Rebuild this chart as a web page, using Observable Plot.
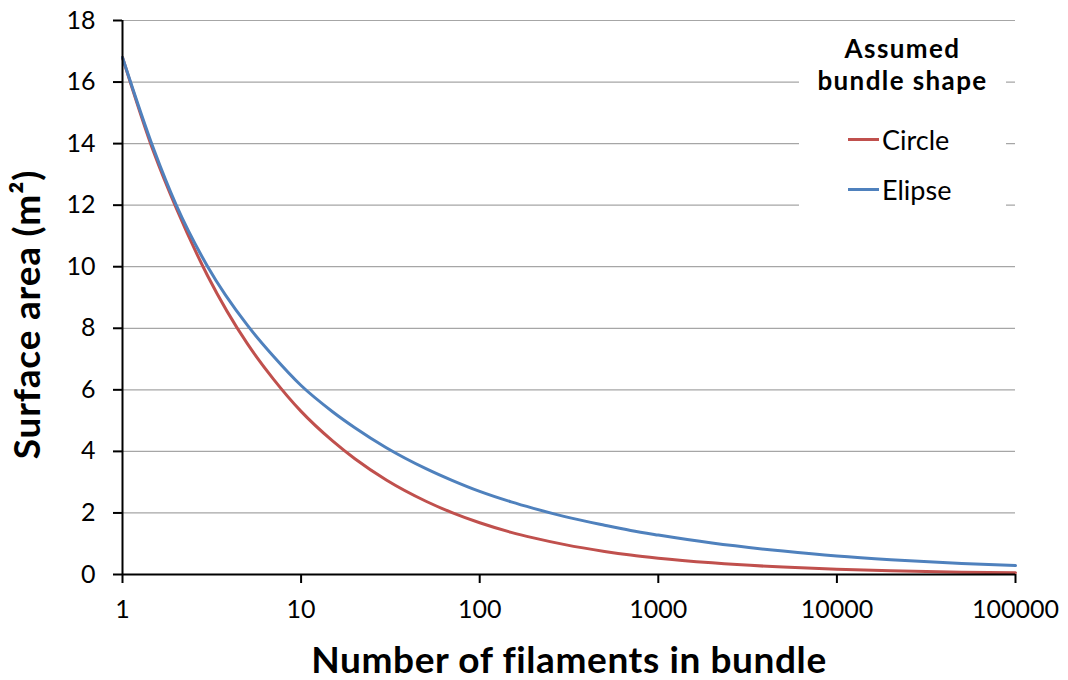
<!DOCTYPE html>
<html>
<head>
<meta charset="utf-8">
<script src="https://cdn.jsdelivr.net/npm/d3@7"></script>
<script src="https://cdn.jsdelivr.net/npm/@observablehq/plot@0.6"></script>
<style>
  html, body { margin: 0; padding: 0; background: #fff; }
  #wrap { position: relative; width: 1068px; height: 680px; font-family: Lato, "Open Sans", sans-serif; }
  #legend { position: absolute; left: 799px; top: 26px; width: 207px; height: 184px; background: #fff; color: #000; }
  #legend .title { font-weight: bold; font-size: 26px; line-height: 32px; text-align: center; margin-top: 6px; letter-spacing: 1.4px; }
  #legend .item { position: absolute; left: 49px; font-size: 27px; display: flex; align-items: center; }
  #legend .sw { width: 31px; height: 3px; margin-right: 3px; }
</style>
</head>
<body>
<div id="wrap"></div>
<script>
// Data
const filaments = [1, 1.5, 2, 3, 5, 7, 10, 15, 20, 30, 50, 70, 100, 150, 200, 300, 500, 700, 1000, 2000, 5000, 10000, 20000, 50000, 100000];
const circle  = [16.8, 13.7, 11.9, 9.7, 7.5, 6.35, 5.3, 4.34, 3.76, 3.07, 2.38, 2.01, 1.68, 1.37, 1.19, 0.97, 0.75, 0.63, 0.53, 0.38, 0.24, 0.17, 0.12, 0.075, 0.06];
const ellipse = [16.8, 13.8, 12.0, 10.0, 8.1, 7.09, 6.14, 5.29, 4.77, 4.12, 3.44, 3.06, 2.70, 2.36, 2.15, 1.88, 1.60, 1.43, 1.28, 1.02, 0.76, 0.60, 0.48, 0.36, 0.29];
const xTicks = [1, 10, 100, 1000, 10000, 100000];
const yTicks = [0, 2, 4, 6, 8, 10, 12, 14, 16, 18];
const seriesNames = ["Circle", "Elipse"];
const seriesColors = ["#C0504D", "#4F81BD"];
const xTitle = "Number of filaments in bundle";
const yTitle = "Surface area (m²)";
const legendTitle = ["Assumed", "bundle shape"];

const rows = [];
filaments.forEach((n, i) => {
  rows.push({n, v: circle[i], s: seriesNames[0]});
  rows.push({n, v: ellipse[i], s: seriesNames[1]});
});

const chart = Plot.plot({
  width: 1068,
  height: 680,
  marginLeft: 122,
  marginRight: 53,
  marginTop: 20,
  marginBottom: 106,
  style: {fontFamily: "Lato, 'Open Sans', sans-serif", fontSize: "25px", color: "#000", background: "#fff"},
  x: {type: "log", domain: [1, 100000]},
  y: {domain: [0, 18]},
  color: {domain: seriesNames, range: seriesColors},
  marks: [
    Plot.gridY(yTicks.filter(d => d > 0), {stroke: "#a6a6a6", strokeOpacity: 1, strokeWidth: 1.2}),
    Plot.line(rows, {x: "n", y: "v", z: "s", stroke: "s", strokeWidth: 3, curve: "monotone-x"}),
    Plot.ruleY([0], {stroke: "#000", strokeWidth: 2}),
    Plot.ruleX([1], {stroke: "#000", strokeWidth: 2}),
    Plot.axisX({ticks: xTicks, tickFormat: d => String(d), tickSize: 9, tickPadding: 17, fontSize: 25, stroke: "#000", strokeWidth: 2, label: null}),
    Plot.axisY({ticks: yTicks, tickSize: 9, tickPadding: 18, fontSize: 25, stroke: "#000", strokeWidth: 2, label: null}),
    Plot.text([xTitle], {frameAnchor: "bottom", dy: 87, lineAnchor: "middle", textAnchor: "middle", fontSize: 37, fontWeight: "bold", fill: "#000"}),
    Plot.text([yTitle], {frameAnchor: "left", dx: -94, dy: 17, rotate: -90, lineAnchor: "middle", textAnchor: "middle", fontSize: 37, fontWeight: "bold", fill: "#000"})
  ]
});

const wrap = document.getElementById("wrap");
wrap.appendChild(chart);
// letter-spacing for the titles
chart.querySelectorAll("text").forEach(t => {
  if (t.textContent === xTitle) t.style.letterSpacing = "0.6px";
  if (t.textContent === yTitle) t.style.letterSpacing = "0.8px";
});

const legend = document.createElement("div");
legend.id = "legend";
legend.innerHTML = legendTitle.map((t, i) => `<div class="title"${i ? ' style="margin-top:0"' : ''}>${t}</div>`).join("") +
  seriesNames.map((s, i) => `<div class="item" style="top:${97 + i * 50}px"><span class="sw" style="background:${seriesColors[i]}"></span><span>${s}</span></div>`).join("");
wrap.appendChild(legend);
</script>
</body>
</html>
